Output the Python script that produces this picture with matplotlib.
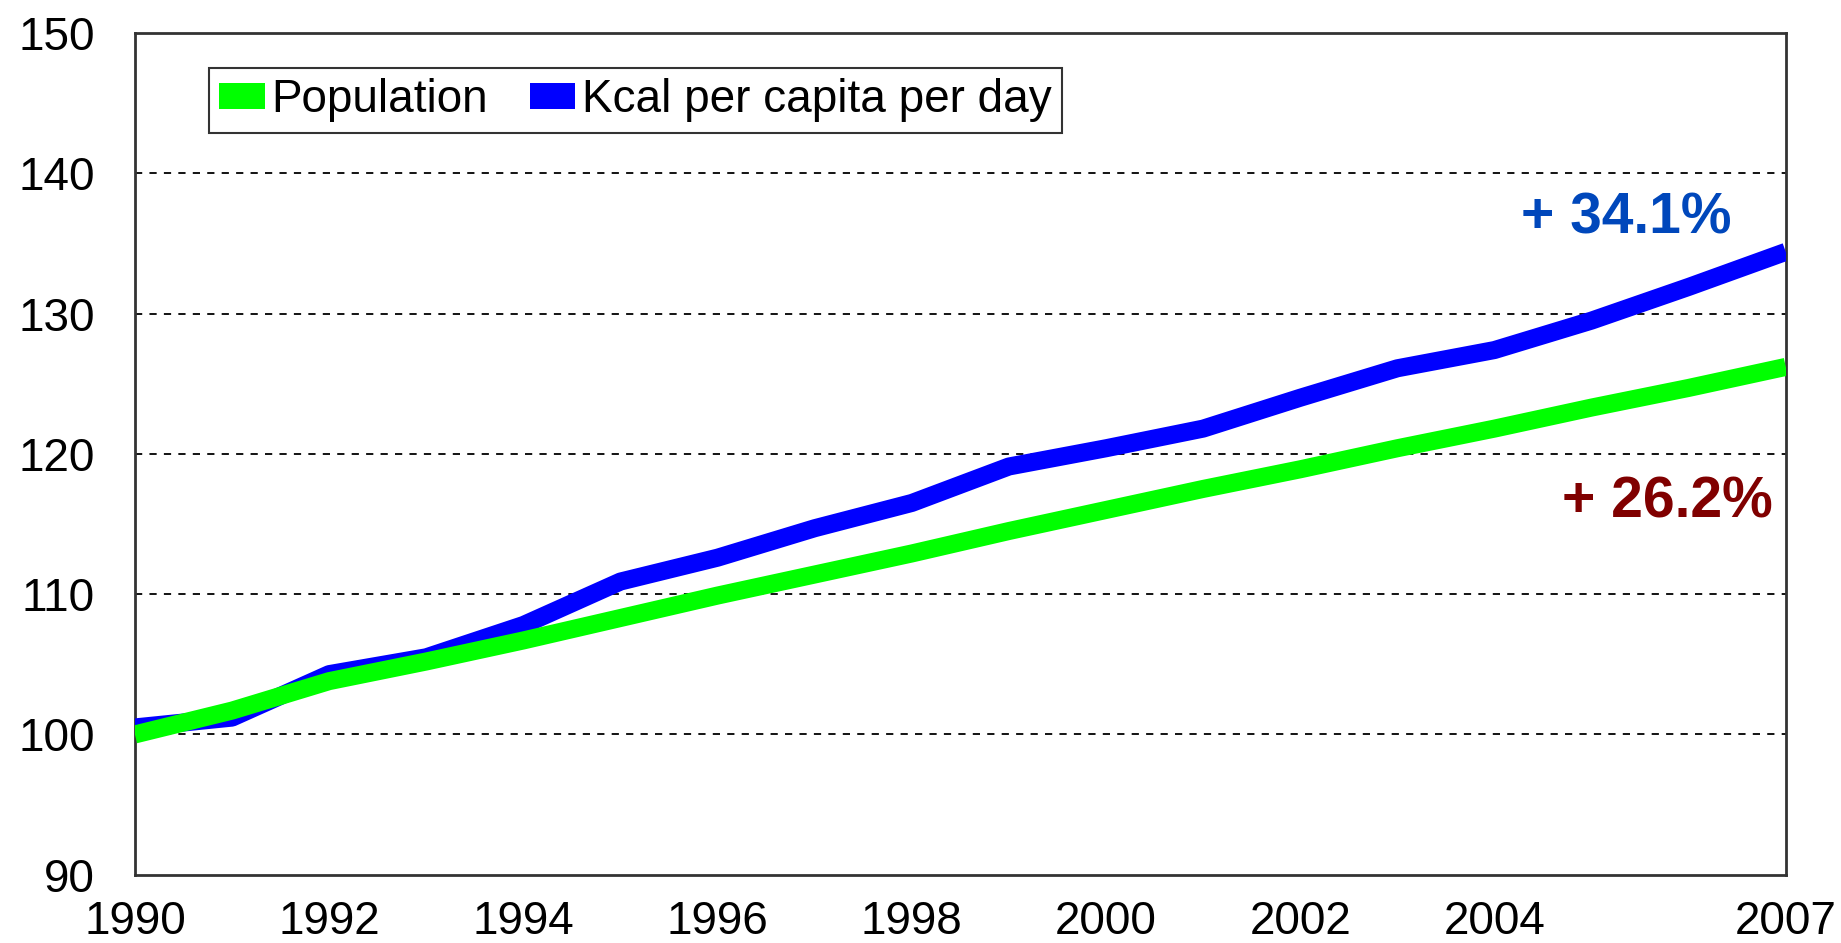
import matplotlib
matplotlib.use("Agg")
import matplotlib.pyplot as plt
from matplotlib.patches import Patch

years = [1990, 1991, 1992, 1993, 1994, 1995, 1996, 1997, 1998, 1999,
         2000, 2001, 2002, 2003, 2004, 2005, 2006, 2007]
population = [100.0, 101.7, 103.8, 105.2, 106.7, 108.3, 109.9, 111.4, 112.9, 114.5,
              116.0, 117.5, 118.9, 120.4, 121.8, 123.3, 124.7, 126.2]
kcal = [100.5, 101.2, 104.3, 105.5, 107.8, 110.9, 112.6, 114.7, 116.5, 119.1,
        120.4, 121.8, 124.0, 126.1, 127.4, 129.5, 131.9, 134.4]
xtick_years = [1990, 1992, 1994, 1996, 1998, 2000, 2002, 2004, 2007]
ytick_vals = [90, 100, 110, 120, 130, 140, 150]
labels = ["Population", "Kcal per capita per day"]
annotations = ["+ 34.1%", "+ 26.2%"]

plt.rcParams['font.family'] = ['Liberation Sans', 'DejaVu Sans']

fig = plt.figure(figsize=(18.41, 9.43), dpi=100)
ax = fig.add_axes([0.0733, 0.0724, 0.8967, 0.8926])

green = "#00FF00"
blue = "#0000FF"

ax.plot(years, kcal, color=blue, lw=13, solid_capstyle='butt', zorder=3)
ax.plot(years, population, color=green, lw=13, solid_capstyle='butt', zorder=4)

ax.set_xlim(1990, 2007)
ax.set_ylim(90, 150)
ax.set_xticks(xtick_years)
ax.set_xticklabels([str(y) for y in xtick_years])
ax.set_yticks(ytick_vals)
ax.tick_params(axis='both', length=0, labelsize=33, pad=18)
ax.tick_params(axis='y', pad=29)

for v in ytick_vals[1:-1]:
    ax.axhline(v, color='black', lw=1.3, ls=(0, (4, 4)), zorder=1)

for s in ax.spines.values():
    s.set_color('#333333')
    s.set_linewidth(2)

handles = [Patch(facecolor=green, edgecolor='none'), Patch(facecolor=blue, edgecolor='none')]
leg = ax.legend(handles, labels, loc='upper left', bbox_to_anchor=(0.0448, 0.958),
                ncol=2, fontsize=33, frameon=True, fancybox=False,
                handlelength=1.0, handleheight=0.5, handletextpad=0.15,
                columnspacing=0.9, borderpad=0.22, borderaxespad=0)
leg.get_frame().set_edgecolor('black')
leg.get_frame().set_linewidth(1.5)

ax.text(2005.36, 136.8, annotations[0], color="#0047BB", fontsize=41,
        fontweight='bold', ha='center', va='center')
ax.text(2005.78, 116.5, annotations[1], color="#800000", fontsize=41,
        fontweight='bold', ha='center', va='center')

fig.savefig("out.png", dpi=100)
